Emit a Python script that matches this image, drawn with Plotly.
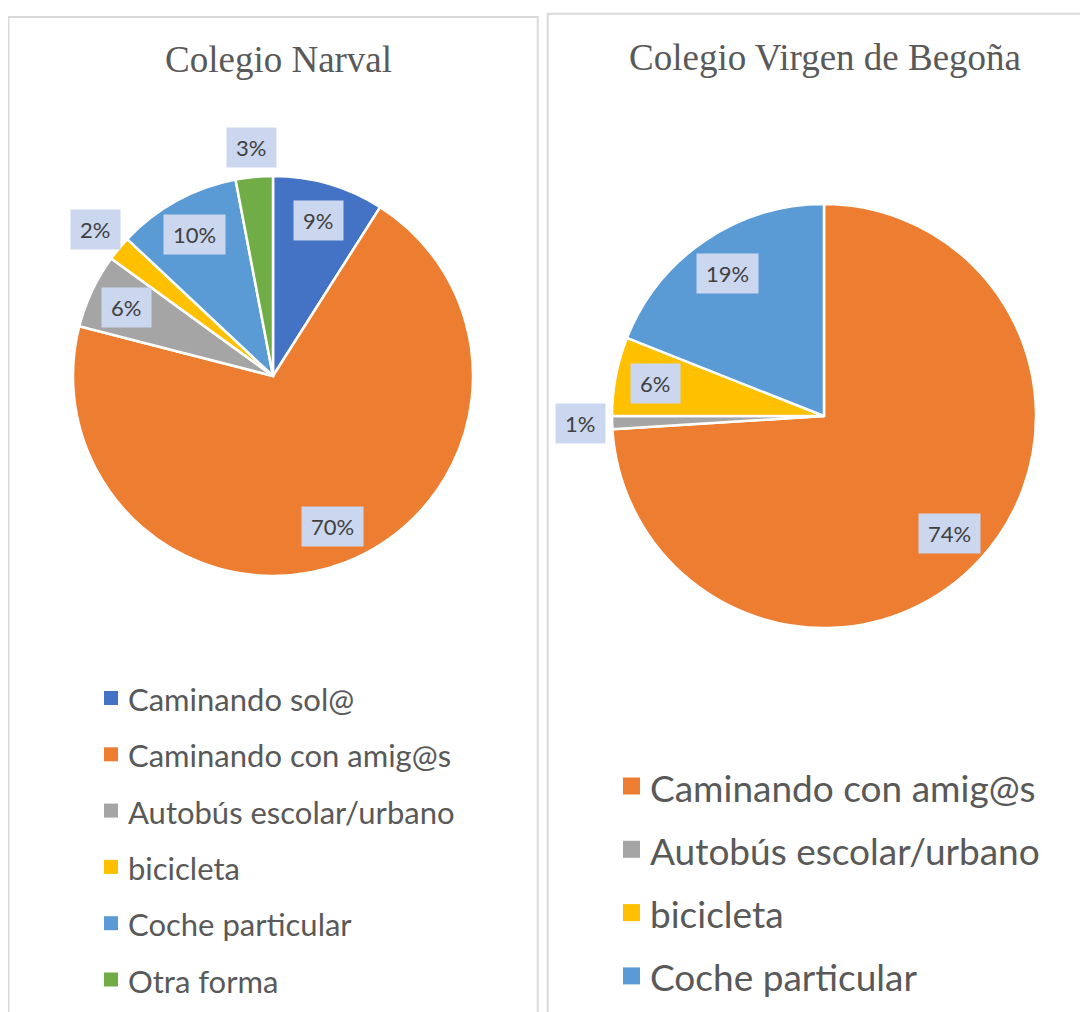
import math

import plotly.graph_objects as go

# Colegio Narval
narval_labels = ["Caminando sol@", "Caminando con amig@s", "Autobús escolar/urbano",
                 "bicicleta", "Coche particular", "Otra forma"]
narval_values = [9, 70, 6, 2, 10, 3]
narval_colors = ["#4472C4", "#ED7D31", "#A5A5A5", "#FFC000", "#5B9BD5", "#70AD47"]

# Colegio Virgen de Begoña
begona_labels = ["Caminando con amig@s", "Autobús escolar/urbano", "bicicleta", "Coche particular"]
begona_values = [74, 1, 6, 19]
begona_colors = ["#ED7D31", "#A5A5A5", "#FFC000", "#5B9BD5"]

# la página html tiene 8 px de margen en el body
OFF = 8
W, H = 1088 - OFF, 1012 - OFF
LABEL_FONT = dict(family="Lato", size=22, color="#404040")
TITLE_FONT = dict(family="Liberation Serif", size=37, color="#595959")


def px_x(x):
    return (x - OFF) / W


def px_y(y):
    return 1 - (y - OFF) / H


def pie_domain(cx, cy, r):
    return dict(x=[px_x(cx - r), px_x(cx + r)], y=[px_y(cy + r), px_y(cy - r)])


def label_annotations(values, cx, cy, r):
    """Etiquetas de porcentaje en caja, a mitad de cada sector."""
    total = sum(values)
    out = []
    acc = 0
    for v in values:
        mid = (acc + v / 2) / total * 2 * math.pi
        acc += v
        rf = 0.81 if v / total >= 0.05 else 1.15
        x = cx + rf * r * math.sin(mid)
        y = cy - rf * r * math.cos(mid)
        txt = f"{round(100 * v / total)}%"
        out.append(dict(
            x=px_x(x), y=px_y(y), xref="paper", yref="paper", xanchor="center", yanchor="middle",
            text=txt, showarrow=False, font=LABEL_FONT, bgcolor="#cbd7ef", borderpad=5,
            width=12.5 * (len(txt) - 1) + 26, height=29,
        ))
    return out


def legend_items(labels, colors, x, y0, step, box, font_size):
    """Leyenda vertical: cuadrado de color + texto."""
    shapes, annots = [], []
    for i, (lab, col) in enumerate(zip(labels, colors)):
        yc = y0 + i * step
        shapes.append(dict(type="rect", xref="paper", yref="paper",
                           x0=px_x(x), x1=px_x(x + box), y0=px_y(yc + box / 2), y1=px_y(yc - box / 2),
                           fillcolor=col, line=dict(width=0)))
        annots.append(dict(x=px_x(x + box + 8), y=px_y(yc + 1), xref="paper", yref="paper",
                           xanchor="left", yanchor="middle", text=lab, showarrow=False,
                           font=dict(family="Lato", size=font_size, color="#595959")))
    return shapes, annots


fig = go.Figure()
fig.add_trace(go.Pie(
    labels=narval_labels, values=narval_values, sort=False, direction="clockwise",
    rotation=0, textinfo="none", hoverinfo="label+percent", showlegend=False,
    marker=dict(colors=narval_colors, line=dict(color="white", width=2.5)),
    domain=pie_domain(273, 376, 200),
))
fig.add_trace(go.Pie(
    labels=begona_labels, values=begona_values, sort=False, direction="clockwise",
    rotation=0, textinfo="none", hoverinfo="label+percent", showlegend=False,
    marker=dict(colors=begona_colors, line=dict(color="white", width=2.5)),
    domain=pie_domain(824, 416, 212),
))

annotations = label_annotations(narval_values, 273, 376, 200)
annotations += label_annotations(begona_values, 824, 416, 212)
annotations += [
    dict(x=px_x(278), y=px_y(60), xref="paper", yref="paper", xanchor="center", yanchor="middle",
         text="Colegio Narval", showarrow=False, font=TITLE_FONT),
    dict(x=px_x(825), y=px_y(58), xref="paper", yref="paper", xanchor="center", yanchor="middle",
         text="Colegio Virgen de Begoña", showarrow=False, font=TITLE_FONT),
]

shapes = [
    dict(type="rect", xref="paper", yref="paper", x0=px_x(8.5), x1=px_x(537.7),
         y0=-0.05, y1=px_y(17), line=dict(color="#d9d9d9", width=2)),
    dict(type="rect", xref="paper", yref="paper", x0=px_x(547.7), x1=1.05,
         y0=-0.05, y1=px_y(13.8), line=dict(color="#d9d9d9", width=2)),
]

s, a = legend_items(narval_labels, narval_colors, 104, 698, 56.3, 14, 31)
shapes += s
annotations += a
s, a = legend_items(begona_labels, begona_colors, 623, 786, 63.3, 17, 37)
shapes += s
annotations += a

fig.update_layout(
    width=W, height=H,
    margin=dict(l=0, r=0, t=0, b=0),
    paper_bgcolor="white",
    annotations=annotations,
    shapes=shapes,
)

fig.write_html("out.html")
